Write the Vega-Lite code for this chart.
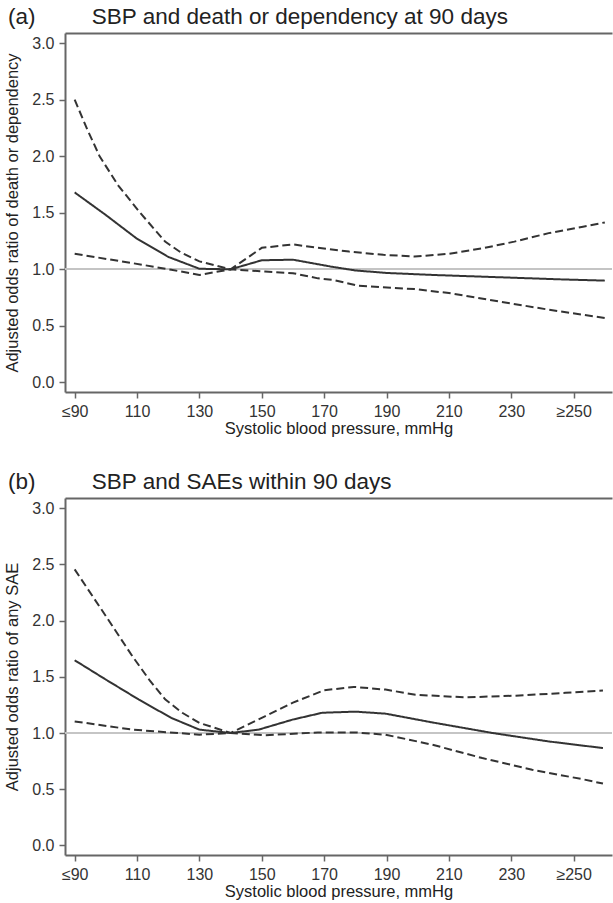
{
  "$schema": "https://vega.github.io/schema/vega-lite/v6.json",
  "padding": {"left": 4, "top": 5, "right": 0, "bottom": 0},
  "background": "white",
  "spacing": 33,
  "config": {
    "font": "Liberation Sans",
    "view": {"stroke": null},
    "axis": {
      "grid": false,
      "domainColor": "#666666",
      "domainWidth": 2,
      "tickColor": "#666666",
      "tickWidth": 1.5,
      "tickSize": 6,
      "labelFont": "Liberation Sans",
      "labelFontSize": 16,
      "labelColor": "#333333",
      "labelPadding": 5,
      "titleFont": "Liberation Sans",
      "titleFontSize": 16.5,
      "titleFontWeight": "normal",
      "titleColor": "#222222"
    },
    "title": {"font": "Liberation Sans", "fontSize": 22.5, "fontWeight": "normal", "color": "#222222", "anchor": "start", "frame": "group", "dx": -57, "offset": 5}
  },
  "datasets": {
    "a": [
      {"x": 90, "y": 1.68, "s": "est"}, {"x": 100, "y": 1.48, "s": "est"}, {"x": 110, "y": 1.27, "s": "est"}, {"x": 120, "y": 1.11, "s": "est"}, {"x": 130, "y": 1.005, "s": "est"}, {"x": 140, "y": 1.0, "s": "est"}, {"x": 150, "y": 1.08, "s": "est"}, {"x": 160, "y": 1.085, "s": "est"}, {"x": 165, "y": 1.06, "s": "est"}, {"x": 172, "y": 1.025, "s": "est"}, {"x": 180, "y": 0.99, "s": "est"}, {"x": 190, "y": 0.968, "s": "est"}, {"x": 205, "y": 0.95, "s": "est"}, {"x": 226, "y": 0.93, "s": "est"}, {"x": 247, "y": 0.91, "s": "est"}, {"x": 260, "y": 0.9, "s": "est"},
      {"x": 90, "y": 2.5, "s": "hi"}, {"x": 94, "y": 2.24, "s": "hi"}, {"x": 98, "y": 2.0, "s": "hi"}, {"x": 104, "y": 1.74, "s": "hi"}, {"x": 111, "y": 1.5, "s": "hi"}, {"x": 119, "y": 1.245, "s": "hi"}, {"x": 124, "y": 1.15, "s": "hi"}, {"x": 130, "y": 1.07, "s": "hi"}, {"x": 140, "y": 1.0, "s": "hi"}, {"x": 150, "y": 1.19, "s": "hi"}, {"x": 160, "y": 1.22, "s": "hi"}, {"x": 168, "y": 1.19, "s": "hi"}, {"x": 178, "y": 1.157, "s": "hi"}, {"x": 189, "y": 1.128, "s": "hi"}, {"x": 199, "y": 1.113, "s": "hi"}, {"x": 210, "y": 1.137, "s": "hi"}, {"x": 221, "y": 1.187, "s": "hi"}, {"x": 231, "y": 1.245, "s": "hi"}, {"x": 242, "y": 1.32, "s": "hi"}, {"x": 253, "y": 1.377, "s": "hi"}, {"x": 260, "y": 1.415, "s": "hi"},
      {"x": 90, "y": 1.137, "s": "lo"}, {"x": 108.5, "y": 1.055, "s": "lo"}, {"x": 121, "y": 0.996, "s": "lo"}, {"x": 130, "y": 0.95, "s": "lo"}, {"x": 140, "y": 1.0, "s": "lo"}, {"x": 151, "y": 0.98, "s": "lo"}, {"x": 160, "y": 0.966, "s": "lo"}, {"x": 168, "y": 0.92, "s": "lo"}, {"x": 173, "y": 0.905, "s": "lo"}, {"x": 181, "y": 0.855, "s": "lo"}, {"x": 199, "y": 0.825, "s": "lo"}, {"x": 210, "y": 0.79, "s": "lo"}, {"x": 226, "y": 0.716, "s": "lo"}, {"x": 242, "y": 0.643, "s": "lo"}, {"x": 260, "y": 0.57, "s": "lo"}
    ],
    "b": [
      {"x": 90, "y": 1.647, "s": "est"}, {"x": 100, "y": 1.475, "s": "est"}, {"x": 110.6, "y": 1.297, "s": "est"}, {"x": 121, "y": 1.134, "s": "est"}, {"x": 130, "y": 1.03, "s": "est"}, {"x": 140, "y": 1.0, "s": "est"}, {"x": 149, "y": 1.03, "s": "est"}, {"x": 160, "y": 1.12, "s": "est"}, {"x": 169.4, "y": 1.18, "s": "est"}, {"x": 180, "y": 1.19, "s": "est"}, {"x": 189.7, "y": 1.172, "s": "est"}, {"x": 204.7, "y": 1.094, "s": "est"}, {"x": 224, "y": 1.0, "s": "est"}, {"x": 242, "y": 0.925, "s": "est"}, {"x": 259.4, "y": 0.866, "s": "est"},
      {"x": 90, "y": 2.455, "s": "hi"}, {"x": 100, "y": 2.04, "s": "hi"}, {"x": 108.5, "y": 1.683, "s": "hi"}, {"x": 114, "y": 1.47, "s": "hi"}, {"x": 119, "y": 1.3, "s": "hi"}, {"x": 124.5, "y": 1.18, "s": "hi"}, {"x": 130, "y": 1.09, "s": "hi"}, {"x": 140, "y": 1.0, "s": "hi"}, {"x": 151, "y": 1.148, "s": "hi"}, {"x": 160, "y": 1.27, "s": "hi"}, {"x": 170, "y": 1.38, "s": "hi"}, {"x": 179.5, "y": 1.41, "s": "hi"}, {"x": 189.7, "y": 1.386, "s": "hi"}, {"x": 199.3, "y": 1.34, "s": "hi"}, {"x": 215.4, "y": 1.317, "s": "hi"}, {"x": 231.4, "y": 1.332, "s": "hi"}, {"x": 247.4, "y": 1.357, "s": "hi"}, {"x": 259.4, "y": 1.377, "s": "hi"},
      {"x": 90, "y": 1.103, "s": "lo"}, {"x": 108.5, "y": 1.03, "s": "lo"}, {"x": 130, "y": 0.985, "s": "lo"}, {"x": 140, "y": 1.0, "s": "lo"}, {"x": 151, "y": 0.98, "s": "lo"}, {"x": 168, "y": 1.005, "s": "lo"}, {"x": 180, "y": 1.005, "s": "lo"}, {"x": 189.7, "y": 0.985, "s": "lo"}, {"x": 204.7, "y": 0.896, "s": "lo"}, {"x": 220.7, "y": 0.777, "s": "lo"}, {"x": 236.7, "y": 0.673, "s": "lo"}, {"x": 252.7, "y": 0.59, "s": "lo"}, {"x": 259.4, "y": 0.55, "s": "lo"}
    ]
  },
  "vconcat": [
    {
      "width": 547,
      "height": 359,
      "title": {"text": "(a)\u00a0\u00a0\u00a0\u00a0\u00a0\u00a0\u00a0\u00a0\u00a0SBP and death or dependency at 90 days"},
      "data": {"name": "a"},
      "resolve": {"axis": {"x": "independent"}},
      "layer": [
        {
          "mark": {"type": "rule", "color": "#c4c4c4", "strokeWidth": 1.5},
          "encoding": {"y": {"datum": 1, "type": "quantitative"}}
        },
        {
          "mark": {"type": "line", "color": "#333333", "strokeWidth": 2},
          "encoding": {
            "x": {"field": "x", "type": "quantitative", "scale": {"domain": [86.9, 262.3], "nice": false, "zero": false},
                  "axis": {"values": [90, 110, 130, 150, 170, 190, 210, 230, 250], "labelExpr": "datum.value == 90 ? '≤90' : datum.value == 250 ? '≥250' : datum.label", "title": "Systolic blood pressure, mmHg", "titlePadding": 1}},
            "y": {"field": "y", "type": "quantitative", "scale": {"domain": [-0.085, 3.09], "nice": false, "zero": false},
                  "axis": {"values": [0, 0.5, 1, 1.5, 2, 2.5, 3], "format": ".1f", "title": "Adjusted odds ratio of death or dependency", "titlePadding": 11}},
            "strokeDash": {"field": "s", "type": "nominal", "scale": {"domain": ["est", "hi", "lo"], "range": [[1, 0], [8, 4], [8, 4]]}, "legend": null}
          }
        },
        {
          "mark": {"type": "line", "strokeOpacity": 0},
          "encoding": {
            "x": {"field": "x", "type": "quantitative", "axis": {"orient": "top", "labels": false, "ticks": false, "title": null}},
            "y": {"field": "y", "type": "quantitative"},
            "detail": {"field": "s"}
          }
        }
      ]
    },
    {
      "width": 547,
      "height": 357,
      "title": {"text": "(b)\u00a0\u00a0\u00a0\u00a0\u00a0\u00a0\u00a0\u00a0\u00a0SBP and SAEs within 90 days"},
      "data": {"name": "b"},
      "resolve": {"axis": {"x": "independent"}},
      "layer": [
        {
          "mark": {"type": "rule", "color": "#c4c4c4", "strokeWidth": 1.5},
          "encoding": {"y": {"datum": 1, "type": "quantitative"}}
        },
        {
          "mark": {"type": "line", "color": "#333333", "strokeWidth": 2},
          "encoding": {
            "x": {"field": "x", "type": "quantitative", "scale": {"domain": [86.9, 262.3], "nice": false, "zero": false},
                  "axis": {"values": [90, 110, 130, 150, 170, 190, 210, 230, 250], "labelExpr": "datum.value == 90 ? '≤90' : datum.value == 250 ? '≥250' : datum.label", "title": "Systolic blood pressure, mmHg", "titlePadding": 1}},
            "y": {"field": "y", "type": "quantitative", "scale": {"domain": [-0.085, 3.09], "nice": false, "zero": false},
                  "axis": {"values": [0, 0.5, 1, 1.5, 2, 2.5, 3], "format": ".1f", "title": "Adjusted odds ratio of any SAE", "titlePadding": 11}},
            "strokeDash": {"field": "s", "type": "nominal", "scale": {"domain": ["est", "hi", "lo"], "range": [[1, 0], [8, 4], [8, 4]]}, "legend": null}
          }
        },
        {
          "mark": {"type": "line", "strokeOpacity": 0},
          "encoding": {
            "x": {"field": "x", "type": "quantitative", "axis": {"orient": "top", "labels": false, "ticks": false, "title": null}},
            "y": {"field": "y", "type": "quantitative"},
            "detail": {"field": "s"}
          }
        }
      ]
    }
  ]
}
